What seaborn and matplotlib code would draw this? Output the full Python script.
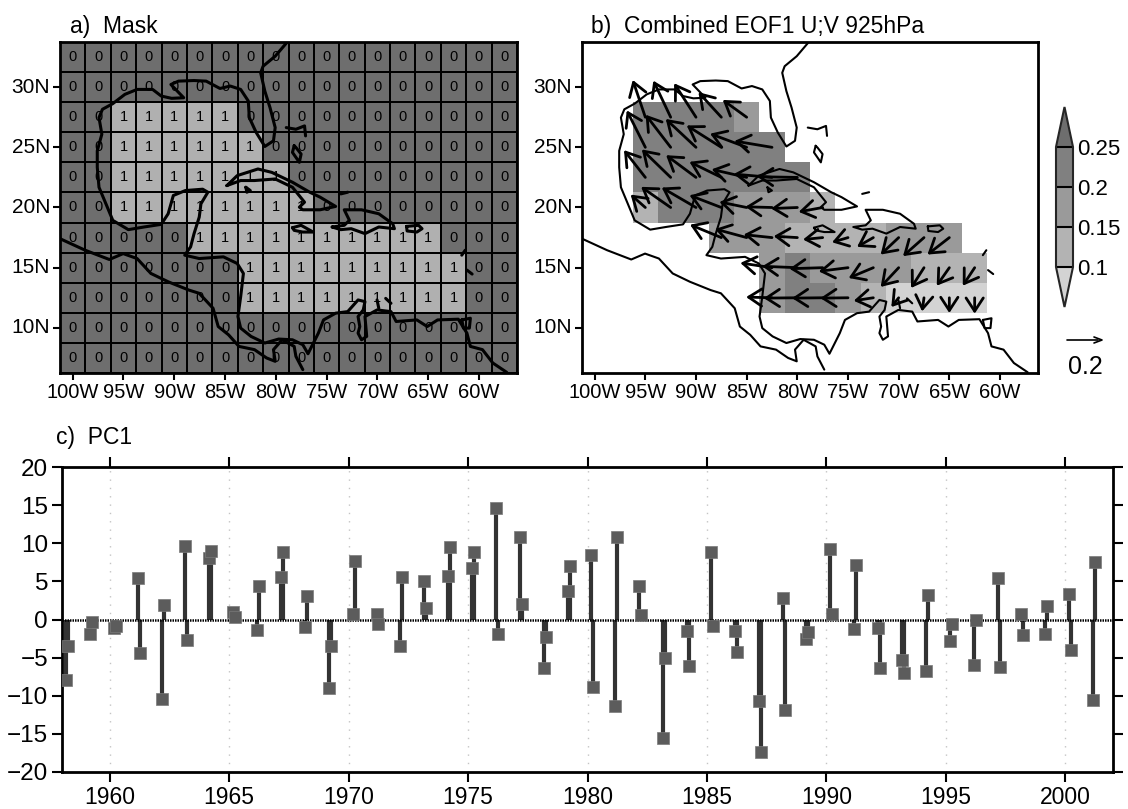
import numpy as np
import pandas as pd
import seaborn as sns
import matplotlib.pyplot as plt
from matplotlib.colors import ListedColormap, BoundaryNorm
from matplotlib.cm import ScalarMappable

# ---- panel a: mask on the 2.5 degree grid, north row first
mask_rows = [
    [0, 0, 0, 0, 0, 0, 0, 0, 0, 0, 0, 0, 0, 0, 0, 0, 0, 0],
    [0, 0, 0, 0, 0, 0, 0, 0, 0, 0, 0, 0, 0, 0, 0, 0, 0, 0],
    [0, 0, 1, 1, 1, 1, 1, 0, 0, 0, 0, 0, 0, 0, 0, 0, 0, 0],
    [0, 0, 1, 1, 1, 1, 1, 1, 0, 0, 0, 0, 0, 0, 0, 0, 0, 0],
    [0, 0, 1, 1, 1, 1, 1, 1, 1, 0, 0, 0, 0, 0, 0, 0, 0, 0],
    [0, 0, 1, 1, 1, 1, 1, 1, 1, 1, 0, 0, 0, 0, 0, 0, 0, 0],
    [0, 0, 0, 0, 0, 1, 1, 1, 1, 1, 1, 1, 1, 1, 1, 0, 0, 0],
    [0, 0, 0, 0, 0, 0, 0, 1, 1, 1, 1, 1, 1, 1, 1, 1, 0, 0],
    [0, 0, 0, 0, 0, 0, 0, 1, 1, 1, 1, 1, 1, 1, 1, 1, 0, 0],
    [0, 0, 0, 0, 0, 0, 0, 0, 0, 0, 0, 0, 0, 0, 0, 0, 0, 0],
    [0, 0, 0, 0, 0, 0, 0, 0, 0, 0, 0, 0, 0, 0, 0, 0, 0, 0],
]

# ---- panel b: shading and vectors, row index and first column of each row
row_index = [2, 3, 4, 5, 6, 7, 8]
row_start = [2, 2, 2, 2, 5, 7, 7]
shade_rows = [
    [.22, .22, .22, .22, .17],
    [.22, .22, .22, .22, .22, .22],
    [.22, .22, .22, .22, .22, .22, .22],
    [.12, .22, .22, .22, .17, .17, .17, .12],
    [.17, .17, .17, .12, .12, .12, .12, .17, .17, .17],
    [.17, .22, .17, .17, .17, .17, .12, .12, .12],
    [.17, .22, .22, .17, .12, .08, .08, .08, .08],
]
u_rows = [
    [-.072, -.099, -.125, -.131, -.137],
    [-.106, -.143, -.173, -.198, -.209, -.215],
    [-.122, -.165, -.171, -.182, -.200, -.219, -.230],
    [-.084, -.169, -.196, -.182, -.156, -.152, -.150, -.137],
    [-.179, -.181, -.162, -.135, -.112, -.091, -.093, -.103, -.120, -.125],
    [-.181, -.201, -.190, -.167, -.141, -.103, -.074, -.072, -.068],
    [-.148, -.192, -.175, -.158, -.112, -.042, -.011, .000, .000],
]
v_rows = [
    [.213, .209, .194, .143, .099],
    [.211, .186, .162, .125, .078, .036],
    [.156, .160, .127, .089, .046, .019, .004],
    [.074, .118, .114, .070, .032, .004, -.006, -.025],
    [.074, .049, .017, .008, -.011, -.027, -.053, -.097, -.106, -.097],
    [.027, .008, -.006, -.021, -.059, -.110, -.116, -.103, -.103],
    [.004, -.002, -.002, -.002, -.017, -.053, -.078, -.087, -.091],
]
shade_levels = [0.1, 0.15, 0.2, 0.25]
shade_colors = ['#d3d3d3', '#b3b3b3', '#9a9a9a', '#808080', '#6e6e6e']

# ---- panel c: PC1, two values per year
years = list(range(1958, 2002))
pc1_first = [-7.9, -1.9, -1.1, 5.4, -10.4, 9.6, 8.05, 1.0, -1.4, 5.6, -1.0,
             -9.0, 0.75, 0.7, -3.5, 5.0, 5.7, 6.8, 14.6, 10.8, -6.3, 3.7,
             8.4, -11.4, 4.4, -15.6, -1.5, 8.8, -1.5, -10.7, 2.85, -2.5,
             9.3, -1.3, -1.1, -5.25, -6.8, -2.8, -6.0, 5.4, 0.7, -1.85, 3.3,
             -10.6]
pc1_second = [-3.5, -0.3, -0.9, -4.4, 1.9, -2.7, 9.0, 0.3, 4.4, 8.9, 3.1,
              -3.5, 7.7, -0.65, 5.6, 1.45, 9.5, 8.85, -1.9, 2.05, -2.3, 7.05,
              -8.9, 10.8, 0.6, -5.1, -6.1, -0.8, -4.3, -17.4, -11.9, -1.7,
              0.75, 7.1, -6.4, -7.05, 3.25, -0.65, -0.1, -6.2, -2.0, 1.8,
              -4.0, 7.6]

# ---- coast outlines (lon, lat)
gulf_coast = [
    (-78.87, 33.75), (-80.06, 32.57), (-81.25, 31.74), (-81.49, 31.19), (-81.08, 29.67),
    (-80.57, 28.3), (-80.06, 26.64), (-80.23, 25.54), (-81.08, 25.07), (-81.93, 26.23),
    (-82.61, 27.47), (-82.71, 28.85), (-83.46, 29.81), (-84.48, 30.09), (-85.5, 29.89),
    (-86.86, 30.5), (-88.05, 30.55), (-89.58, 30.5), (-90.33, 30.22), (-89.07, 29.12),
    (-90.26, 29.07), (-91.28, 29.26), (-92.13, 29.81), (-93.66, 29.81), (-94.86, 29.4),
    (-96.05, 28.63), (-97.07, 28.16), (-97.41, 27.47), (-97.13, 26.09), (-97.58, 24.71),
    (-97.58, 23.34), (-97.41, 21.68), (-96.73, 20.31), (-96.05, 18.93), (-94.52, 18.16),
    (-92.98, 18.38), (-91.28, 18.6), (-90.6, 19.48), (-90.09, 21.0), (-88.9, 21.41),
    (-87.2, 21.52), (-86.69, 21.27), (-87.37, 20.31), (-87.54, 19.2), (-88.05, 17.83),
    (-88.39, 16.73), (-88.97, 16.04), (-87.54, 15.76), (-85.16, 15.9), (-83.8, 15.35),
    (-83.19, 14.52), (-83.46, 12.59), (-83.73, 10.94), (-83.46, 9.98), (-82.44, 9.29),
    (-81.08, 8.74), (-79.72, 9.07), (-78.36, 9.01), (-77.34, 8.6), (-76.83, 7.85),
    (-75.81, 9.56), (-75.3, 10.66), (-74.11, 11.22), (-72.92, 11.35), (-71.9, 12.32),
    (-71.22, 12.18), (-71.39, 11.49), (-71.9, 10.94), (-71.73, 10.11), (-71.9, 9.56),
    (-71.56, 9.01), (-71.05, 9.29), (-71.22, 10.94), (-70.03, 11.49), (-68.66, 11.35),
    (-68.15, 10.53), (-66.11, 10.66), (-65.09, 10.11), (-64.07, 10.66), (-62.03, 10.72),
    (-61.18, 9.56), (-60.84, 8.46), (-59.65, 8.19), (-58.63, 7.08), (-57.27, 6.31),
]
pacific_coast = [
    (-101.25, 17.41), (-98.77, 16.45), (-96.39, 15.68), (-95.03, 16.17), (-93.66, 15.76),
    (-92.3, 14.52), (-90.6, 13.83), (-88.56, 13.14), (-87.54, 12.87), (-86.18, 11.63),
    (-85.67, 10.11), (-84.65, 9.42), (-83.63, 8.46), (-82.1, 8.19), (-80.91, 7.5),
    (-80.06, 7.22), (-80.23, 8.19), (-79.38, 9.01), (-78.19, 8.46), (-78.02, 7.63),
    (-77.34, 6.53),
]
cuba = [
    (-84.82, 21.82), (-83.8, 22.65), (-81.76, 23.2), (-80.4, 22.92), (-78.36, 22.1),
    (-76.66, 21.27), (-75.64, 20.86), (-74.11, 20.09), (-75.64, 19.81), (-77.34, 19.81),
    (-77.68, 20.03), (-77.17, 20.44), (-78.36, 21.68), (-80.06, 22.37), (-82.1, 22.24),
    (-83.46, 22.24), (-84.82, 21.82),
]
hispaniola = [
    (-74.45, 18.38), (-73.26, 18.52), (-72.75, 18.93), (-73.26, 19.81), (-71.56, 19.81),
    (-69.86, 19.48), (-68.49, 18.65), (-68.32, 18.24), (-69.86, 18.38), (-71.22, 17.83),
    (-72.58, 18.24), (-73.6, 18.16), (-74.45, 18.38),
]
jamaica = [(-78.36, 18.32), (-77.51, 18.52), (-76.32, 17.96), (-77.34, 17.96), (-78.19, 18.1), (-78.36, 18.32)]
puerto_rico = [(-67.13, 18.43), (-65.94, 18.52), (-65.6, 18.24), (-66.11, 17.96), (-67.07, 18.05), (-67.13, 18.43)]
grand_bahama = [(-78.97, 26.64), (-78.02, 26.5), (-77.17, 26.78), (-77.07, 25.95)]
andros = [(-78.19, 25.13), (-78.36, 24.58), (-77.68, 23.75), (-77.51, 24.44), (-78.02, 24.99), (-78.19, 25.13)]
inagua = [(-73.6, 21.13), (-72.92, 21.27)]
isle_of_youth = [(-82.95, 21.68), (-82.51, 21.41), (-82.85, 21.27), (-82.95, 21.68)]
trinidad = [(-61.69, 10.66), (-60.84, 10.8), (-60.94, 9.98), (-61.52, 9.98), (-61.69, 10.66)]
guadeloupe = [(-61.69, 16.04), (-61.35, 16.45)]
st_lucia = [(-61.18, 14.8), (-60.67, 14.47)]
aruba = [(-70.03, 12.32), (-69.86, 11.63)]
curacao = [(-69.18, 12.45), (-68.66, 12.04)]
coasts = [gulf_coast, pacific_coast, cuba, hispaniola, jamaica, puerto_rico, grand_bahama,
          andros, inagua, isle_of_youth, trinidad, guadeloupe, st_lucia, aruba, curacao]

lon_ticks = [-100, -95, -90, -85, -80, -75, -70, -65, -60]
lat_ticks = [30, 25, 20, 15, 10]
lon_labels = ['100W', '95W', '90W', '85W', '80W', '75W', '70W', '65W', '60W']
lat_labels = ['30N', '25N', '20N', '15N', '10N']

WIDTH, HEIGHT = 1128, 809
WEST, NORTH, STEP = -101.25, 33.75, 2.5

sns.set_theme(style='ticks')
plt.rcParams['font.family'] = ['Liberation Sans', 'DejaVu Sans']
plt.rcParams['text.color'] = 'black'
plt.rcParams['xtick.labelcolor'] = 'black'
plt.rcParams['ytick.labelcolor'] = 'black'


def px_axes(fig, left, top, right, bottom):
    return fig.add_axes([left / WIDTH, 1 - bottom / HEIGHT, (right - left) / WIDTH, (bottom - top) / HEIGHT])


def cell_x(lon):
    return (np.asarray(lon) - WEST) / STEP


def cell_y(lat):
    return (NORTH - np.asarray(lat)) / STEP


def draw_coast(ax, lw):
    for seg in coasts:
        lon, lat = zip(*seg)
        ax.plot(cell_x(lon), cell_y(lat), color='black', lw=lw, solid_joinstyle='round', zorder=5, clip_on=True)


def map_axis(ax):
    ax.set_xlim(0, 18)
    ax.set_ylim(11, 0)
    ax.set_xticks(cell_x(lon_ticks))
    ax.set_xticklabels(lon_labels, rotation=0, fontsize=14.5)
    ax.set_yticks(cell_y(lat_ticks))
    ax.set_yticklabels(lat_labels, rotation=0, fontsize=15)
    ax.tick_params(length=5, width=1.5, pad=2, color='black', bottom=True, left=True)
    ax.set_xlabel('')
    ax.set_ylabel('')
    for s in ax.spines.values():
        s.set_visible(True)
        s.set_linewidth(2)
        s.set_color('black')


fig = plt.figure(figsize=(WIDTH / 100, HEIGHT / 100), dpi=100, facecolor='white')

# a) Mask
ax_a = px_axes(fig, 60, 42, 517, 373)
sns.heatmap(pd.DataFrame(mask_rows), ax=ax_a, cmap=ListedColormap(['#6e6e6e', '#b0b0b0']), vmin=0, vmax=1,
            annot=True, fmt='d', annot_kws={'size': 10.5, 'color': 'black'},
            linewidths=1.3, linecolor='black', cbar=False)
draw_coast(ax_a, 2.2)
map_axis(ax_a)

# b) EOF shading and vectors
shade = np.full((11, 18), np.nan)
for r, c0, vals in zip(row_index, row_start, shade_rows):
    shade[r, c0:c0 + len(vals)] = vals
cmap_b = ListedColormap(shade_colors)
norm_b = BoundaryNorm(shade_levels, 5, extend='both')
ax_b = px_axes(fig, 582, 42, 1038, 373)
sns.heatmap(pd.DataFrame(shade), ax=ax_b, cmap=cmap_b, norm=norm_b, cbar=False)
draw_coast(ax_b, 1.5)
map_axis(ax_b)

# vector lengths: 0.2 is 35 px on the page
px_per_unit = 175.0
cell_w = (1038 - 582) / 18
cell_h = (373 - 42) / 11
for r, c0, us, vs in zip(row_index, row_start, u_rows, v_rows):
    for k, (u, v) in enumerate(zip(us, vs)):
        x0, y0 = c0 + k + 0.5, r + 0.5
        x1 = x0 + u * px_per_unit / cell_w
        y1 = y0 - v * px_per_unit / cell_h
        ax_b.annotate('', xy=(x1, y1), xytext=(x0, y0), zorder=6,
                      arrowprops=dict(arrowstyle='->,head_length=0.95,head_width=0.62', mutation_scale=10,
                                      lw=2.0, color='black', shrinkA=0, shrinkB=0))

# colour key, the axes holds the end triangles too
cax = px_axes(fig, 1056, 107, 1073, 307)
sm = ScalarMappable(norm=norm_b, cmap=cmap_b)
cb = fig.colorbar(sm, cax=cax, extend='both', extendfrac=0.333, ticks=shade_levels, drawedges=True)
cb.ax.set_yticklabels(['0.1', '0.15', '0.2', '0.25'], fontsize=16)
cb.ax.tick_params(length=0, pad=3)
cb.outline.set_linewidth(1.5)
cb.dividers.set_linewidth(1.5)
cb.dividers.set_color('black')

# reference vector
fig.add_artist(plt.Line2D([1067 / WIDTH, 1098 / WIDTH], [1 - 340 / HEIGHT] * 2, color='black', lw=1.2))
fig.add_artist(plt.Line2D([1094 / WIDTH, 1102 / WIDTH, 1094 / WIDTH],
                          [1 - 337 / HEIGHT, 1 - 340 / HEIGHT, 1 - 343 / HEIGHT], color='black', lw=1.2))
fig.text(1085 / WIDTH, 1 - 367 / HEIGHT, '0.2', fontsize=18, ha='center', va='center')

# c) PC1
ax_c = px_axes(fig, 62, 467, 1113, 772)
pc_x = [y + 2 / 12 for y in years] + [y + 3 / 12 for y in years]
pc_y = pc1_first + pc1_second
pc = pd.DataFrame({'time': pc_x, 'pc1': pc_y})
ax_c.vlines(range(1960, 2001, 5), -20, 20, color='#c4c4c4', lw=1, linestyles=(0, (1, 5)), zorder=1)
ax_c.vlines(pc['time'], 0, pc['pc1'], color='#333333', lw=3, zorder=2)
ax_c.axhline(0, color='black', lw=1.8, ls=(0, (0.6, 0.4)), zorder=3)
sns.scatterplot(data=pc, x='time', y='pc1', ax=ax_c, marker='s', s=65, color='#5c5c5c',
                edgecolor='#7a7a7a', linewidth=0.5, zorder=4, legend=False)
ax_c.set_xlim(1958, 2002)
ax_c.set_ylim(-20, 20)
ax_c.set_xticks(range(1960, 2001, 5))
ax_c.set_yticks(range(-20, 21, 5))
ax_c.tick_params(axis='x', labelsize=16.5)
ax_c.tick_params(axis='y', labelsize=17.5)
ax_c.tick_params(axis='both', length=7, width=1.5, color='black', pad=3,
                 top=True, right=True, bottom=True, left=True)
ax_c.set_xlabel('')
ax_c.set_ylabel('')
for s in ax_c.spines.values():
    s.set_visible(True)
    s.set_linewidth(2)
    s.set_color('black')

# panel titles
fig.text(70 / WIDTH, 1 - 33 / HEIGHT, 'a)  Mask', fontsize=16.5, ha='left', va='baseline')
fig.text(591 / WIDTH, 1 - 33 / HEIGHT, 'b)  Combined EOF1 U;V 925hPa', fontsize=16.5, ha='left', va='baseline')
fig.text(56 / WIDTH, 1 - 444 / HEIGHT, 'c)  PC1', fontsize=16.5, ha='left', va='baseline')

fig.savefig('out.png', dpi=100, facecolor='white')
